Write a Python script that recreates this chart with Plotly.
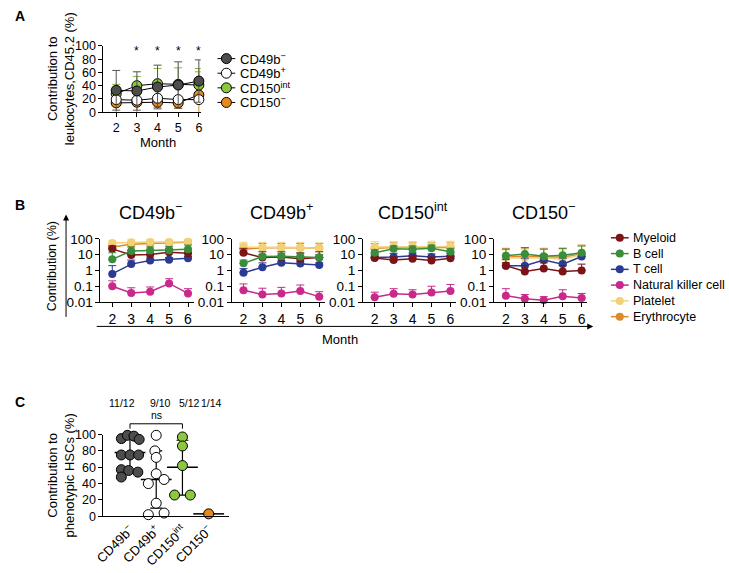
import plotly.graph_objects as go

W, H = 729, 573
FONT = "Liberation Sans, Arial, sans-serif"

# ---------------- Panel A data ----------------
months = [2, 3, 4, 5, 6]
a_names = ["CD49b<sup>−</sup>", "CD49b<sup>+</sup>", "CD150<sup>int</sup>", "CD150<sup>−</sup>"]
a_cd49b_neg = [33, 32, 38, 41, 47]
a_cd49b_neg_sd = [30, 29, 33, 35, 32]
a_cd49b_pos = [19, 18, 21, 19, 19]
a_cd49b_pos_sd = [3, 3, 3, 3, 3]
a_cd150_int = [28, 40, 43, 42, 41]
a_cd150_int_sd = [14, 14, 23, 25, 25]
a_cd150_neg = [14, 15, 15, 14, 26]
a_cd150_neg_sd = [24, 25, 8, 8, 35]
a_sig_months = [3, 4, 5, 6]
a_sig_value = 92

# ---------------- Panel B data ----------------
b_titles = ["CD49b<sup>−</sup>", "CD49b<sup>+</sup>", "CD150<sup>int</sup>", "CD150<sup>−</sup>"]
b_types = ["Myeloid", "B cell", "T cell", "Natural killer cell", "Platelet", "Erythrocyte"]
p1_vals = {"Myeloid": [23, 9.5, 10, 14, 12], "B cell": [5, 17, 18, 19, 22],
           "T cell": [0.6, 2.5, 4.3, 4.8, 5.8], "Natural killer cell": [0.1, 0.037, 0.045, 0.15, 0.035],
           "Platelet": [55, 60, 62, 63, 65], "Erythrocyte": [30, 45, 50, 55, 60]}
p1_tops = {"Myeloid": [35, 18, 20, 25, 20], "B cell": [13, 30, 30, 32, 40],
           "T cell": [2.0, 4.5, 6, 6.5, 7.5], "Natural killer cell": [0.22, 0.08, 0.09, 0.3, 0.07],
           "Platelet": [75, 95, 95, 100, 95], "Erythrocyte": [45, 65, 70, 75, 75]}
p2_vals = {"Myeloid": [13, 6.5, 7, 5.5, 6.5], "B cell": [2.8, 7.5, 8, 7.5, 6.5],
           "T cell": [0.7, 1.6, 3, 2.7, 2.2], "Natural killer cell": [0.055, 0.03, 0.035, 0.05, 0.022],
           "Platelet": [30, 28, 28, 28, 25], "Erythrocyte": [22, 27, 28, 27, 26]}
p2_tops = {"Myeloid": [25, 15, 15, 13, 15], "B cell": [4.5, 10, 12, 12, 10],
           "T cell": [1.3, 3, 4, 3.8, 3], "Natural killer cell": [0.14, 0.075, 0.085, 0.12, 0.045],
           "Platelet": [60, 60, 60, 60, 55], "Erythrocyte": [45, 50, 50, 50, 50]}
p3_vals = {"Myeloid": [6, 4.5, 5.5, 4.3, 5.8], "B cell": [13, 23, 22, 25, 15],
           "T cell": [6.5, 7, 8.5, 7, 8], "Natural killer cell": [0.02, 0.033, 0.03, 0.04, 0.05],
           "Platelet": [30, 30, 30, 33, 33], "Erythrocyte": [25, 28, 28, 28, 28]}
p3_tops = {"Myeloid": [8, 7, 8, 7, 8], "B cell": [20, 35, 35, 40, 25],
           "T cell": [10, 12, 13, 11, 12], "Natural killer cell": [0.042, 0.07, 0.06, 0.1, 0.13],
           "Platelet": [65, 65, 65, 70, 70], "Erythrocyte": [50, 55, 55, 55, 55]}
p4_vals = {"Myeloid": [2, 0.85, 1.3, 0.85, 1], "B cell": [8.5, 11, 8, 9, 13],
           "T cell": [2, 2, 4.5, 2.5, 7.5], "Natural killer cell": [0.025, 0.016, 0.013, 0.023, 0.018],
           "Platelet": [6, 6, 6, 5, 10], "Erythrocyte": [7, 8, 7, 7, 11]}
p4_tops = {"Myeloid": [3, 2, 3, 2, 2.5], "B cell": [22, 28, 22, 25, 35],
           "T cell": [5, 6, 10, 6, 12], "Natural killer cell": [0.07, 0.03, 0.022, 0.06, 0.035],
           "Platelet": [20, 22, 22, 20, 35], "Erythrocyte": [25, 25, 25, 25, 40]}
b_log_ticks = [0.01, 0.1, 1, 10, 100]
b_log_labels = ["0.01", "0.1", "1", "10", "100"]

# ---------------- Panel C data ----------------
c_groups = ["CD49b<sup>−</sup>", "CD49b<sup>+</sup>", "CD150<sup>int</sup>", "CD150<sup>−</sup>"]
c_counts = ["11/12", "9/10", "5/12", "1/14"]
c_cd49b_neg = [95, 99, 98, 94, 75, 75, 75, 57, 56, 54, 48]
c_cd49b_pos = [99, 80, 72, 52, 45, 40, 16, 2, 4]
c_cd150_int = [97, 86, 62, 26, 26]
c_cd150_neg = [3]
c_median = [78, 45, 60, 3]
c_q1 = [57, 10, 26, 3]
c_q3 = [96, 80, 93, 3]
c_sig_text = "ns"

# ---------------- styles ----------------
a_fill = ["#4d4d4d", "#ffffff", "#8dc63f", "#e5891e"]
a_err = ["#555555", "#000000", "#7fb539", "#e5891e"]
b_colors = {"Myeloid": "#7a1417", "B cell": "#3a8d3a", "T cell": "#2c3a92",
            "Natural killer cell": "#c8298a", "Platelet": "#f2d277", "Erythrocyte": "#dd8a28"}
b_draw_order = ["Erythrocyte", "Platelet", "Natural killer cell", "T cell", "Myeloid", "B cell"]
# beeswarm offsets (layout only)
c_jit = [
    [-0.33, -0.1, 0.15, 0.35, -0.33, 0.0, 0.33, -0.33, -0.05, 0.3, -0.33],
    [0.0, -0.05, 0.0, 0.0, 0.3, -0.3, 0.0, -0.3, 0.3],
    [0.0, 0.0, 0.0, -0.3, 0.3],
    [0.0],
]
c_count_px = [114, 153, 182, 205]


def px(x):
    return x / W


def py(y):
    return 1 - y / H


def ftxt(size):
    return dict(family=FONT, size=size, color="black")


def label(x, y, text, size, angle=0, xanchor="center", xref="paper"):
    return dict(x=x, y=y, xref=xref, yref="paper", text=text, textangle=angle, showarrow=False,
                xanchor=xanchor, yanchor="middle", font=ftxt(size))


fig = go.Figure()
annotations = []
shapes = []


def axis_style(size):
    return dict(showline=True, linecolor="black", linewidth=1, ticks="outside", ticklen=4,
                tickwidth=1, tickcolor="black", showgrid=False, zeroline=False,
                tickfont=ftxt(size), fixedrange=True)


# ================= Panel A =================
a_vals = [a_cd49b_neg, a_cd49b_pos, a_cd150_int, a_cd150_neg]
a_sds = [a_cd49b_neg_sd, a_cd49b_pos_sd, a_cd150_int_sd, a_cd150_neg_sd]
for i in [3, 2, 1, 0]:
    fig.add_trace(go.Scatter(
        x=months, y=a_vals[i], mode="lines+markers", xaxis="x", yaxis="y",
        line=dict(color="black", width=1),
        marker=dict(size=10, color=a_fill[i], line=dict(color="black", width=1)),
        error_y=dict(type="data", array=a_sds[i], color=a_err[i], thickness=1, width=4),
        cliponaxis=False, showlegend=False, hoverinfo="skip"))

layout = dict(
    xaxis=dict(domain=[px(95), px(194)], range=[1.381, 6.095], tickvals=months, anchor="y", **axis_style(12.5)),
    yaxis=dict(domain=[py(108), py(40)], range=[0, 100], tickvals=[0, 20, 40, 60, 80, 100], anchor="x",
               **axis_style(12.5)),
)
for m in a_sig_months:
    annotations.append(dict(x=m, y=a_sig_value, xref="x", yref="y", text="*", showarrow=False,
                            xanchor="center", yanchor="middle", font=ftxt(12)))
annotations.append(label(px(150), py(139), "Month", 13))
annotations.append(label(px(52), py(74), "Contribution to<br>leukocytes,CD45.2 (%)", 13, angle=-90))

# ================= Panel B =================
b_vals = [p1_vals, p2_vals, p3_vals, p4_vals]
b_tops = [p1_tops, p2_tops, p3_tops, p4_tops]
unit = 19.25
for p in range(4):
    t2 = 104 + 133.4 * p
    xa = "x%d" % (p + 2)
    ya = "y%d" % (p + 2)
    for ct in b_draw_order:
        v = b_vals[p][ct]
        up = [t - val for t, val in zip(b_tops[p][ct], v)]
        fig.add_trace(go.Scatter(
            x=months, y=v, mode="lines+markers", xaxis=xa, yaxis=ya,
            line=dict(color=b_colors[ct], width=1.5),
            marker=dict(size=8, color=b_colors[ct]),
            error_y=dict(type="data", symmetric=False, array=up, arrayminus=[0] * len(v),
                         color=b_colors[ct], thickness=1, width=4),
            cliponaxis=False, showlegend=False, hoverinfo="skip"))
    layout["xaxis%d" % (p + 2)] = dict(domain=[px(t2 - 12), px(t2 + 4 * unit + 0.3 * unit)],
                                       range=[2 - 12 / unit, 6.3], tickvals=months, anchor=ya,
                                       **axis_style(14))
    layout["yaxis%d" % (p + 2)] = dict(domain=[py(303), py(238)], type="log", range=[-2, 2],
                                       tickvals=b_log_ticks, ticktext=b_log_labels, anchor=xa,
                                       **axis_style(13.5))
    annotations.append(label(px(t2 + 38.5), py(210), b_titles[p], 18))

# arrows
annotations.append(dict(x=px(57), y=py(213), xref="paper", yref="paper", ax=0, ay=104, text="",
                        showarrow=True, arrowhead=2, arrowsize=1.2, arrowwidth=1, arrowcolor="black"))
annotations.append(dict(x=px(593), y=py(328), xref="paper", yref="paper", ax=-498, ay=0, text="",
                        showarrow=True, arrowhead=2, arrowsize=1.2, arrowwidth=1, arrowcolor="black"))
annotations.append(label(px(43), py(266), "Contribution (%)", 12.5, angle=-90))
annotations.append(label(px(336), py(341), "Month", 13))

# ================= Panel C =================
c_vals = [c_cd49b_neg, c_cd49b_pos, c_cd150_int, c_cd150_neg]
cunit = 26.67
fig.add_trace(go.Scatter(
    x=[0, 1, 2, 3], y=c_median, mode="markers", xaxis="x6", yaxis="y6",
    marker=dict(symbol="line-ew", size=22, line=dict(color="black", width=1.5)),
    error_y=dict(type="data", symmetric=False, array=[q - m for q, m in zip(c_q3, c_median)],
                 arrayminus=[m - q for q, m in zip(c_q1, c_median)], color="black", thickness=1.2, width=6),
    cliponaxis=False, showlegend=False, hoverinfo="skip"))
for g in range(4):
    fig.add_trace(go.Scatter(
        x=[g + j for j in c_jit[g]], y=c_vals[g], mode="markers", xaxis="x6", yaxis="y6",
        marker=dict(size=10, color=a_fill[g], line=dict(color="black", width=1)),
        cliponaxis=False, showlegend=False, hoverinfo="skip"))
layout["xaxis6"] = dict(domain=[px(95), px(223)], range=[-27 / cunit, 3 + 21 / cunit],
                        tickvals=[0, 1, 2, 3], ticktext=c_groups, tickangle=-45, anchor="y6",
                        **{**axis_style(13), "ticks": ""})
layout["yaxis6"] = dict(domain=[py(523), py(439)], range=[0, 100], tickvals=[0, 20, 40, 60, 80, 100],
                        anchor="x6", **axis_style(12.5))
for g in range(4):
    annotations.append(label(px(c_count_px[g]), py(407), c_counts[g], 10.5))
annotations.append(label(1, py(419), c_sig_text, 10.5, xref="x6"))
shapes.append(dict(type="path", xref="x6", yref="paper",
                   path="M 0,%f L 0,%f L 2,%f L 2,%f" % (py(433), py(428), py(428), py(433)),
                   line=dict(color="black", width=1)))
annotations.append(label(px(52), py(481), "Contribution to<br>phenotypic HSCs (%)", 13, angle=-90))

# ================= Legends (overlay axis in pixel units) =================
layout["xaxis7"] = dict(domain=[0, 1], range=[0, W], visible=False, fixedrange=True)
layout["yaxis7"] = dict(domain=[0, 1], range=[H, 0], visible=False, fixedrange=True, anchor="x7")
for i in range(4):
    yy = 53 + 15 * i
    fig.add_trace(go.Scatter(x=[211, 229], y=[yy, yy], mode="lines", xaxis="x7", yaxis="y7",
                             line=dict(color="black", width=1), showlegend=False, hoverinfo="skip"))
    fig.add_trace(go.Scatter(x=[220], y=[yy], mode="markers", xaxis="x7", yaxis="y7",
                             marker=dict(size=10, color=a_fill[i], line=dict(color="black", width=1)),
                             showlegend=False, hoverinfo="skip"))
    annotations.append(label(px(232), py(yy), a_names[i], 13, xanchor="left"))
for i, ct in enumerate(b_types):
    yy = 237 + 16.2 * i
    fig.add_trace(go.Scatter(x=[611, 629], y=[yy, yy], mode="lines", xaxis="x7", yaxis="y7",
                             line=dict(color=b_colors[ct], width=1.5), showlegend=False, hoverinfo="skip"))
    fig.add_trace(go.Scatter(x=[620], y=[yy], mode="markers", xaxis="x7", yaxis="y7",
                             marker=dict(size=8, color=b_colors[ct]), showlegend=False, hoverinfo="skip"))
    annotations.append(label(px(631), py(yy), ct, 12.5, xanchor="left"))

# panel letters
for letter, yy in [("A", 9), ("B", 203), ("C", 406)]:
    annotations.append(label(px(3), py(yy), "<b>%s</b>" % letter, 14, xanchor="left"))

fig.update_layout(width=W, height=H, margin=dict(l=0, r=0, t=0, b=0), autosize=False,
                  paper_bgcolor="white", plot_bgcolor="rgba(0,0,0,0)",
                  font=dict(family=FONT, color="black"),
                  annotations=annotations, shapes=shapes, **layout)
fig.write_html("out.html", config={"displayModeBar": False, "staticPlot": True},
               post_script="document.body.style.margin='0px';document.body.style.padding='0px';")
